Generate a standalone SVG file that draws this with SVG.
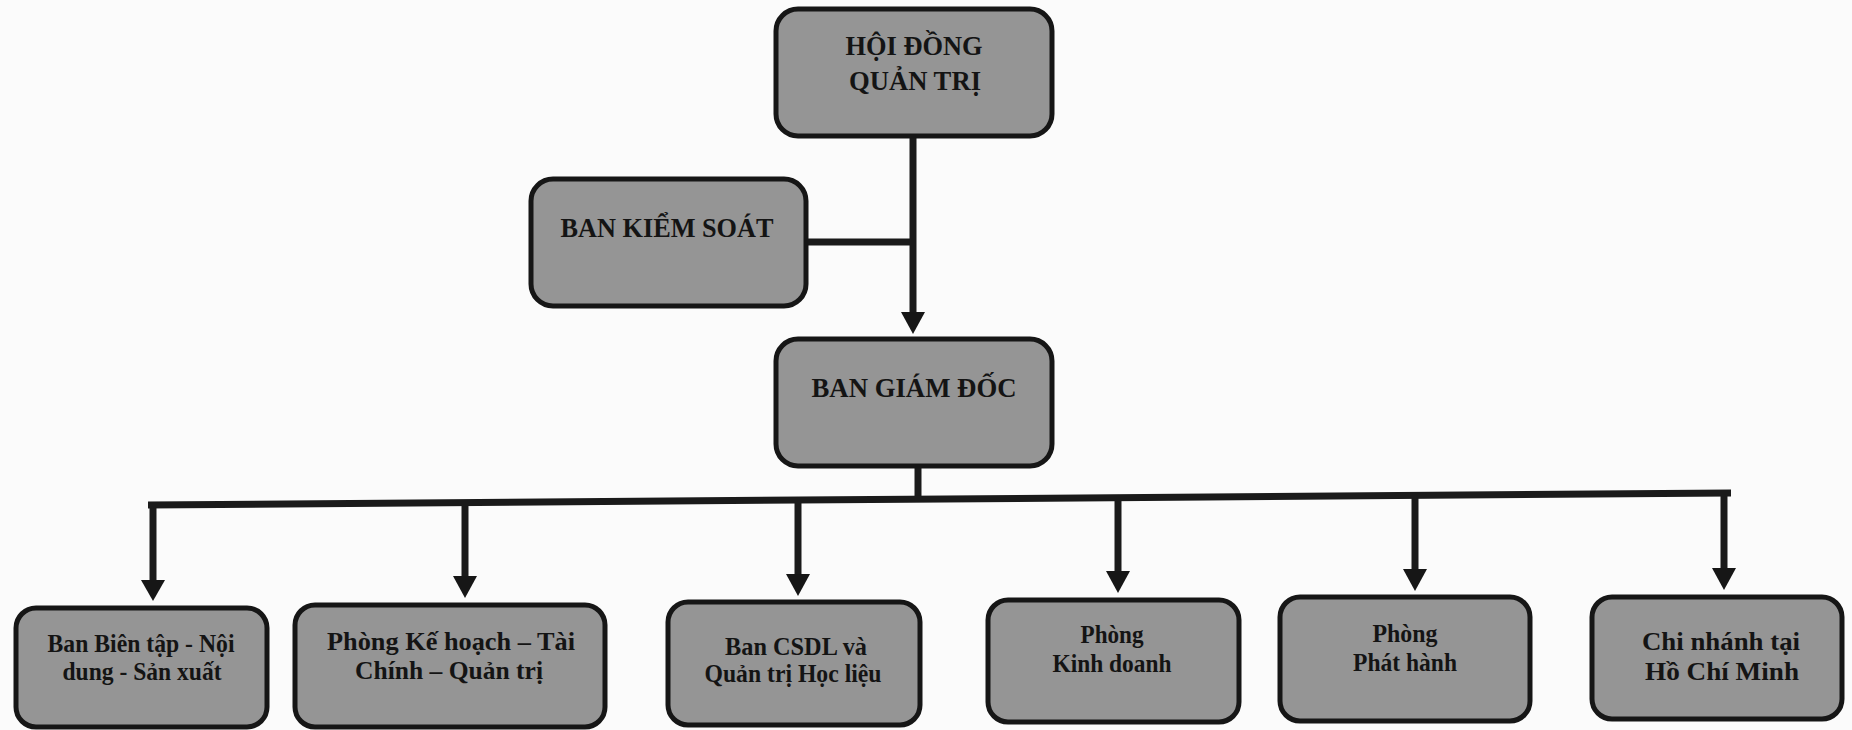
<svg xmlns="http://www.w3.org/2000/svg" width="1852" height="730" viewBox="0 0 1852 730">
<style>
.box{fill:#959595;stroke:#161616;stroke-width:5}
.t{font-family:"Liberation Serif","Times New Roman",serif;font-weight:bold;fill:#141414;text-anchor:middle}
.big{font-size:27px}
.sm{font-size:26px}
.ln{stroke:#1a1a1a;stroke-width:7;fill:none}
.ah{fill:#161616}
</style>
<rect width="1852" height="730" fill="#fbfbfb"/>
<g id="connectors">
<line class="ln" x1="913" y1="137" x2="913" y2="312"/>
<path class="ah" d="M901,312 L925,312 L913,334 Z"/>
<line class="ln" x1="807" y1="242" x2="913" y2="242"/>
<line class="ln" x1="918" y1="467" x2="918" y2="497"/>
<line class="ln" x1="148" y1="505" x2="1731" y2="493"/>
<line class="ln" x1="153" y1="505" x2="153" y2="580"/>
<path class="ah" d="M141,580 L165,580 L153,601 Z"/>
<line class="ln" x1="465" y1="503" x2="465" y2="576"/>
<path class="ah" d="M453,576 L477,576 L465,598 Z"/>
<line class="ln" x1="798" y1="500" x2="798" y2="574"/>
<path class="ah" d="M786,574 L810,574 L798,596 Z"/>
<line class="ln" x1="1118" y1="498" x2="1118" y2="571"/>
<path class="ah" d="M1106,571 L1130,571 L1118,593 Z"/>
<line class="ln" x1="1415" y1="496" x2="1415" y2="569"/>
<path class="ah" d="M1403,569 L1427,569 L1415,591 Z"/>
<line class="ln" x1="1724" y1="494" x2="1724" y2="568"/>
<path class="ah" d="M1712,568 L1736,568 L1724,590 Z"/>
</g>
<g id="hdqt">
<rect class="box" x="776" y="9" width="276" height="127" rx="22"/>
<text class="t big" x="914" y="55" textLength="137" lengthAdjust="spacingAndGlyphs">HỘI ĐỒNG</text>
<text class="t big" x="915" y="90" textLength="132" lengthAdjust="spacingAndGlyphs">QUẢN TRỊ</text>
</g>
<g id="bks">
<rect class="box" x="531" y="179" width="275" height="127" rx="22"/>
<text class="t big" x="667" y="237" textLength="213" lengthAdjust="spacingAndGlyphs">BAN KIỂM SOÁT</text>
</g>
<g id="bgd">
<rect class="box" x="776" y="339" width="276" height="127" rx="22"/>
<text class="t big" x="914" y="397" textLength="205" lengthAdjust="spacingAndGlyphs">BAN GIÁM ĐỐC</text>
</g>
<g id="bbt">
<rect class="box" x="16" y="608" width="251" height="119" rx="20"/>
<text class="t sm" x="141" y="652" textLength="187" lengthAdjust="spacingAndGlyphs">Ban Biên tập - Nội</text>
<text class="t sm" x="142" y="680" textLength="159" lengthAdjust="spacingAndGlyphs">dung - Sản xuất</text>
</g>
<g id="pkh">
<rect class="box" x="295" y="605" width="310" height="122" rx="20"/>
<text class="t sm" x="451" y="650" textLength="248" lengthAdjust="spacingAndGlyphs">Phòng Kế hoạch – Tài</text>
<text class="t sm" x="449" y="679" textLength="188" lengthAdjust="spacingAndGlyphs">Chính – Quản trị</text>
</g>
<g id="csdl">
<rect class="box" x="668" y="602" width="252" height="123" rx="20"/>
<text class="t sm" x="796" y="655" textLength="142" lengthAdjust="spacingAndGlyphs">Ban CSDL và</text>
<text class="t sm" x="793" y="682" textLength="177" lengthAdjust="spacingAndGlyphs">Quản trị Học liệu</text>
</g>
<g id="pkd">
<rect class="box" x="988" y="600" width="251" height="122" rx="20"/>
<text class="t sm" x="1112" y="643" textLength="63" lengthAdjust="spacingAndGlyphs">Phòng</text>
<text class="t sm" x="1112" y="672" textLength="119" lengthAdjust="spacingAndGlyphs">Kinh doanh</text>
</g>
<g id="pph">
<rect class="box" x="1280" y="597" width="250" height="124" rx="20"/>
<text class="t sm" x="1405" y="642" textLength="65" lengthAdjust="spacingAndGlyphs">Phòng</text>
<text class="t sm" x="1405" y="671" textLength="104" lengthAdjust="spacingAndGlyphs">Phát hành</text>
</g>
<g id="cn">
<rect class="box" x="1592" y="597" width="250" height="122" rx="20"/>
<text class="t sm" x="1721" y="650" textLength="158" lengthAdjust="spacingAndGlyphs">Chi nhánh tại</text>
<text class="t sm" x="1722" y="680" textLength="154" lengthAdjust="spacingAndGlyphs">Hồ Chí Minh</text>
</g>
</svg>
